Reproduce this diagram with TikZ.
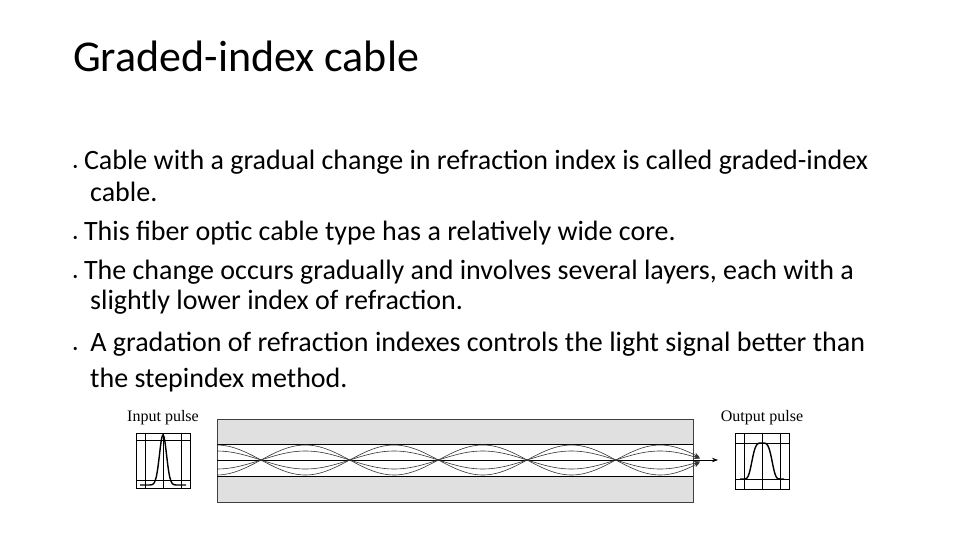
\documentclass[tikz,border=0pt]{standalone}
\usepackage{fontspec}
\setmainfont{Carlito}
\newfontfamily\serfont{Liberation Serif}
\usetikzlibrary{arrows.meta}
\begin{document}
\begin{tikzpicture}[x=1pt,y=-1pt,
  body/.style={anchor=base west,inner sep=0,font=\fontsize{28}{32}\selectfont},
  lbl/.style={font=\serfont\fontsize{16}{18}\selectfont,inner sep=0},
  ray/.style={line width=0.6pt,black!80},
  grid/.style={line width=0.5pt}]
\useasboundingbox (0,0) rectangle (960,540);
\node[anchor=base west,inner sep=0,font=\fontsize{44}{48}\selectfont] (title) at (73,72) {Graded-index cable};
\node[body] (b1) at (73,170) {{\small\textbullet}\ Cable with a gradual change in refraction index is called graded-index};
\node[body] (b1b) at (90,201) {cable.};
\node[body] (b2) at (73,240) {{\small\textbullet}\ This fiber optic cable type has a relatively wide core.};
\node[body] (b3) at (73,279) {{\small\textbullet}\ The change occurs gradually and involves several layers, each with a};
\node[body] (b3b) at (90,309) {slightly lower index of refraction.};
\node[body] (b4) at (73,351) {{\small\textbullet}\ \ A gradation of refraction indexes controls the light signal better than};
\node[body] (b4b) at (90,387) {the stepindex method.};
% cable
\fill[black!12] (217,419) rectangle (693,502);
\fill[white] (217,444) rectangle (693,476);
\draw[line width=0.9pt,black!75] (217,419) rectangle (693,502);
\draw[line width=0.8pt] (217,444) -- (693,444) (217,476) -- (693,476);
\draw[line width=0.8pt,-{Stealth[length=6pt]}] (217,460) -- (718,460);
\foreach \A in {15,9,-9,-15}
  \draw[ray,-{Stealth[length=6pt]}] plot[domain=0.504:5.95,samples=160,smooth] ({172.3+88.7*\x},{460-\A*sin(180*\x)});
% input pulse
\node[lbl] (inl) at (163,418) {Input pulse};
\draw[grid] (136,433) rectangle (190,488) (145,433) -- (145,488) (163,433) -- (163,488) (181,433) -- (181,488) (136,440) -- (190,440) (136,480) -- (190,480);
\draw[line width=1.4pt] plot[domain=-4.6:4.6,samples=80,smooth] ({163+5*\x},{485-50*exp(-(\x)^2)});
% output pulse
\node[lbl] (outl) at (762,418) {Output pulse};
\draw[grid] (735,433) rectangle (789,489) (744,433) -- (744,489) (762,433) -- (762,489) (780,433) -- (780,489) (735,443) -- (789,443) (735,479) -- (789,479);
\draw[line width=1.4pt] plot[domain=-2:2,samples=80,smooth] ({762+11*\x},{479-36*exp(-(\x)^4)});
\end{tikzpicture}
\end{document}
